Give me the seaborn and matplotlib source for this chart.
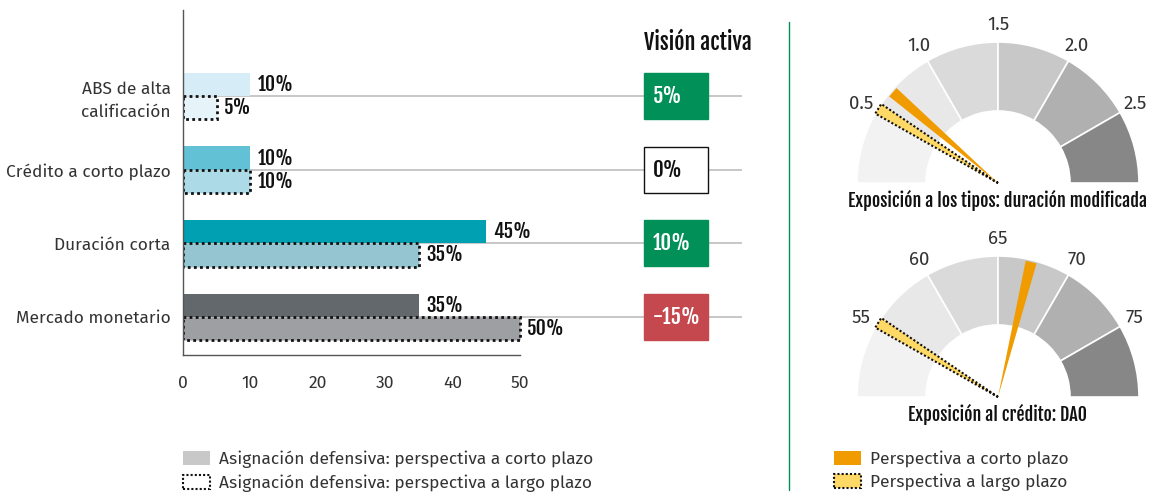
import numpy as np
import pandas as pd
import seaborn as sns
import matplotlib
matplotlib.use('Agg')
import matplotlib.pyplot as plt
from matplotlib.patches import Rectangle, Wedge, Polygon, Patch
from matplotlib.lines import Line2D

# Datos del gráfico de barras
categorias = ['ABS de alta\ncalificación', 'Crédito a corto plazo', 'Duración corta', 'Mercado monetario']
asig_corto = [10, 10, 45, 35]
asig_largo = [5, 10, 35, 50]
vision_activa = [5, 0, 10, -15]
colores_corto = ['#d6ecf6', '#63c1d6', '#00a0b3', '#62686c']
colores_largo = ['#e6f3f9', '#acdbe7', '#94c5d0', '#9d9fa3']
ticks_x = [0, 10, 20, 30, 40, 50]

# Datos de los indicadores
duracion_ticks = [0.5, 1.0, 1.5, 2.0, 2.5]
duracion_rango = (0.0, 3.0)
duracion_corto = 0.68
duracion_largo = 0.53
dao_ticks = [55, 60, 65, 70, 75]
dao_rango = (50, 80)
dao_corto = 67.3
dao_largo = 55.3
sectores = ['#f2f2f2', '#e8e8e8', '#dadada', '#c8c8c8', '#b0b0b0', '#878787']

VERDE = '#009058'
ROJO = '#c4484e'
NARANJA = '#f09c00'
AMARILLO = '#ffd966'
TEXTO = '#333333'

sns.set_theme(style='white')
plt.rcParams['font.family'] = ['Fira Sans', 'Lato', 'DejaVu Sans']
negrita = dict(family=['Fjalla One', 'Oswald', 'Roboto Condensed', 'DejaVu Sans'], weight='bold')

W, H = 1152, 496
fig = plt.figure(figsize=(W / 100, H / 100), dpi=100)


def px(x0, y0, x1, y1):
    # caja en píxeles (y desde arriba) -> coordenadas de figura
    return [x0 / W, 1 - y1 / H, (x1 - x0) / W, (y1 - y0) / H]


# ---- Gráfico de barras ----
ax = fig.add_axes(px(183, 10, 742, 355))
df = pd.DataFrame({
    'categoria': categorias * 2,
    'valor': asig_corto + asig_largo,
    'horizonte': ['corto'] * 4 + ['largo'] * 4,
})
sns.barplot(data=df, y='categoria', x='valor', hue='horizonte', orient='h',
            width=0.63, dodge=True, ax=ax, legend=False,
            palette={'corto': '#c8c8c8', 'largo': '#ffffff'}, saturation=1)

for bar, c in zip(ax.containers[0], colores_corto):
    bar.set_facecolor(c)
    bar.set_edgecolor('none')
for bar, c in zip(ax.containers[1], colores_largo):
    bar.set_facecolor(c)
    bar.set_edgecolor('#111111')
    bar.set_linestyle((0, (1, 1.2)))
    bar.set_linewidth(2)

for cont, vals in zip(ax.containers, [asig_corto, asig_largo]):
    ax.bar_label(cont, labels=[f'{v}%' for v in vals], padding=5,
                 fontsize=14, color='#111111', **negrita)

escala = 50 / (520 - 183)
ax.set_xlim(0, (742 - 183) * escala)
ax.set_ylim(3.515, -1.167)
for i in range(len(categorias)):
    ax.axhline(i, color='#bdbdbd', lw=1.2, zorder=0.5)

ax.set_xticks(ticks_x)
ax.set_xticklabels([str(t) for t in ticks_x], fontsize=12.5, color=TEXTO)
ax.set_yticks(range(len(categorias)))
ax.set_yticklabels(categorias, fontsize=12.5, color=TEXTO, linespacing=1.5)
ax.set_yticks([1.5], minor=True)
ax.tick_params(axis='x', direction='inout', length=9, width=1.6, color='#111111', pad=10)
ax.tick_params(axis='y', which='major', length=0, pad=9)
ax.tick_params(axis='y', which='minor', direction='in', length=6, width=1.6, color='#111111')
ax.set_xlabel('')
ax.set_ylabel('')
for s in ['top', 'right']:
    ax.spines[s].set_visible(False)
ax.spines['bottom'].set_bounds(0, 50)
ax.spines['bottom'].set_color('#555555')
ax.spines['left'].set_color('#555555')
ax.spines['bottom'].set_linewidth(1)
ax.spines['left'].set_linewidth(1)

# Columna "Visión activa"
tr = ax.get_yaxis_transform()
x0 = (644 - 183) / (742 - 183)
ancho = (708 - 183) / (742 - 183) - x0
alto = 46 / 73.7
ax.text((698 - 183) / (742 - 183), (355 - 42) / 345, 'Visión activa', transform=ax.transAxes,
        ha='center', va='center', fontsize=16, color='#111111', **negrita)
for i, v in enumerate(vision_activa):
    if v > 0:
        fc, ec, tc = VERDE, VERDE, 'white'
    elif v < 0:
        fc, ec, tc = ROJO, ROJO, 'white'
    else:
        fc, ec, tc = 'white', '#111111', '#111111'
    ax.add_patch(Rectangle((x0, i - alto / 2), ancho, alto, transform=tr,
                           facecolor=fc, edgecolor=ec, lw=1, zorder=3, clip_on=False))
    ax.text(x0 + 9 / 559, i, f'{v}%', transform=tr, ha='left', va='center',
            fontsize=15, color=tc, zorder=4, **negrita)

# Separador vertical
fig.add_artist(Line2D([789 / W, 789 / W], [1 - 22 / H, 1 - 490 / H], color=VERDE, lw=1))

# ---- Indicadores semicirculares ----
gx = fig.add_axes([800 / W, 0, (W - 800) / W, 1])
gx.set_xlim(800, W)
gx.set_ylim(0, H)
gx.axis('off')


def angulo(v, rango):
    return 180 - (v - rango[0]) / (rango[1] - rango[0]) * 180


def aguja(cx, cy, ang, r, color, punteada):
    d = 2.3
    a1, a2 = np.radians(ang - d), np.radians(ang + d)
    pts = [(cx, cy), (cx + r * np.cos(a1), cy + r * np.sin(a1)),
           (cx + r * np.cos(a2), cy + r * np.sin(a2))]
    if punteada:
        gx.add_patch(Polygon(pts, closed=True, facecolor=color, edgecolor='#111111',
                             lw=1.5, linestyle=(0, (1, 1)), zorder=3))
    else:
        gx.add_patch(Polygon(pts, closed=True, facecolor=color, edgecolor='none', zorder=3))


def indicador(cy, ticks, rango, corto, largo, titulo):
    cx, R, r = 998, 141, 72
    for k, c in enumerate(sectores):
        gx.add_patch(Wedge((cx, cy), R, 180 - 30 * (k + 1), 180 - 30 * k, width=R - r,
                           facecolor=c, edgecolor='white', lw=1.2))
    for t in ticks:
        a = np.radians(angulo(t, rango))
        gx.text(cx + 158 * np.cos(a), cy + 158 * np.sin(a), str(t), ha='center',
                va='center', fontsize=13.5, color=TEXTO)
    aguja(cx, cy, angulo(largo, rango), 141, AMARILLO, True)
    aguja(cx, cy, angulo(corto, rango), 139, NARANJA, False)
    gx.text(cx, cy - 17, titulo, ha='center', va='center', fontsize=13,
            color='#111111', **negrita)


indicador(H - 183, duracion_ticks, duracion_rango, duracion_corto, duracion_largo,
          'Exposición a los tipos: duración modificada')
indicador(H - 397, dao_ticks, dao_rango, dao_corto, dao_largo,
          'Exposición al crédito: DAO')

# ---- Leyendas ----
punteado = dict(edgecolor='#111111', linestyle=(0, (1, 1)), lw=1.5)
fig.legend(handles=[Patch(facecolor='#c8c8c8', edgecolor='none'),
                    Patch(facecolor='white', **punteado)],
           labels=['Asignación defensiva: perspectiva a corto plazo',
                   'Asignación defensiva: perspectiva a largo plazo'],
           loc='upper left', bbox_to_anchor=(167 / W, 1 - 435 / H), frameon=False,
           fontsize=12.5, handlelength=1.6, handleheight=0.85, handletextpad=0.5,
           labelspacing=0.35, labelcolor=TEXTO)
fig.legend(handles=[Patch(facecolor=NARANJA, edgecolor='none'),
                    Patch(facecolor=AMARILLO, **punteado)],
           labels=['Perspectiva a corto plazo', 'Perspectiva a largo plazo'],
           loc='upper left', bbox_to_anchor=(818 / W, 1 - 435 / H), frameon=False,
           fontsize=12.5, handlelength=1.6, handleheight=0.85, handletextpad=0.5,
           labelspacing=0.35, labelcolor=TEXTO)

fig.savefig('out.png', dpi=100)
